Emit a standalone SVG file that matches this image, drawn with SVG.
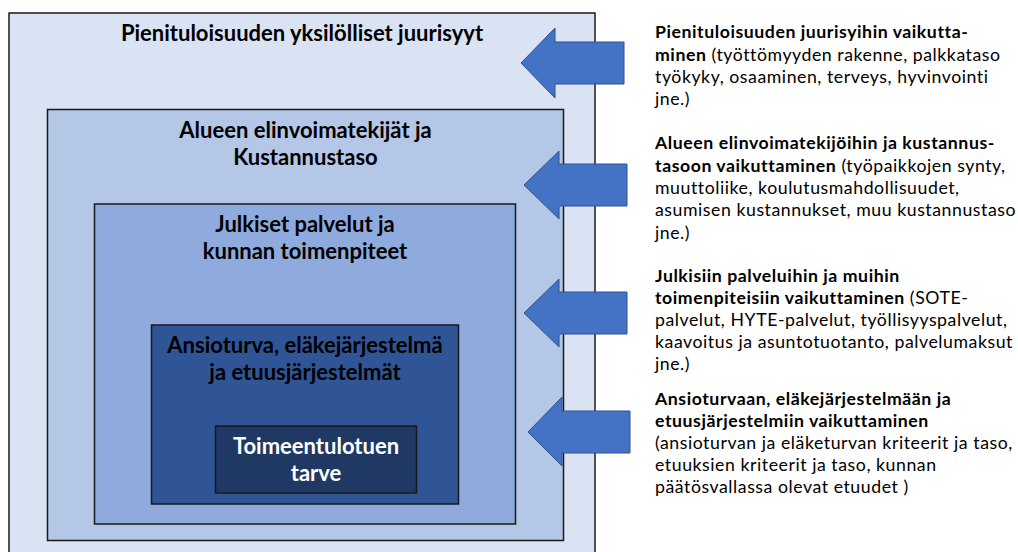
<svg xmlns="http://www.w3.org/2000/svg" width="1018" height="552" viewBox="0 0 1018 552">
<style>
.box{stroke:#1a1a1a;stroke-width:1.5}
.h{font-family:Lato,"Liberation Sans",sans-serif;font-weight:bold;font-size:22px;text-anchor:middle;fill:#000}
.w{fill:#fff}
.t{font-family:Lato,"Liberation Sans",sans-serif;font-size:17.7px;letter-spacing:0.55px;fill:#000}
.b{font-weight:bold}
.arrow{fill:#4472C4;stroke:#2F528F;stroke-width:1}
</style>
<rect width="1018" height="552" fill="#fff"/>
<g id="outer">
<rect class="box" x="9" y="13" width="586" height="560" fill="#DAE3F3" stroke="#404040"/>
<text class="h" x="302" y="41">Pienituloisuuden yksilölliset juurisyyt</text>
</g>
<g id="alue">
<rect class="box" x="47.5" y="109.5" width="516" height="431" fill="#B4C7E7"/>
<text class="h" x="305.5" y="138">Alueen elinvoimatekijät ja</text>
<text class="h" x="305.5" y="165">Kustannustaso</text>
</g>
<g id="julkiset">
<rect class="box" x="94.5" y="204" width="421" height="320" fill="#8FAADC"/>
<text class="h" x="305" y="232">Julkiset palvelut ja</text>
<text class="h" x="305" y="259">kunnan toimenpiteet</text>
</g>
<g id="ansioturva">
<rect class="box" x="151.5" y="325" width="307" height="179" fill="#2F5597"/>
<text class="h" x="305" y="353">Ansioturva, eläkejärjestelmä</text>
<text class="h" x="305" y="380">ja etuusjärjestelmät</text>
</g>
<g id="toimeentulo">
<rect class="box" x="215.5" y="426" width="201" height="67" fill="#203864"/>
<text class="h w" x="316" y="454">Toimeentulotuen</text>
<text class="h w" x="316" y="481">tarve</text>
</g>
<g id="connectors">
<polygon class="arrow" points="521,63 555,28 555,42 624,42 624,84 555,84 555,98"/>
<polygon class="arrow" points="524,185 559,151 559,164 627,164 627,206 559,206 559,219"/>
<polygon class="arrow" points="524,313 559,279 559,292 627,292 627,334 559,334 559,347"/>
<polygon class="arrow" points="528,432 562,397 562,411 630,411 630,453 562,453 562,466"/>
</g>
<g id="label1">
<text class="t" x="655" y="38"><tspan class="b">Pienituloisuuden juurisyihin vaikutta-</tspan></text>
<text class="t" x="655" y="61"><tspan class="b">minen</tspan> (työttömyyden rakenne, palkkataso</text>
<text class="t" x="655" y="83">työkyky, osaaminen, terveys, hyvinvointi</text>
<text class="t" x="655" y="105">jne.)</text>
</g>
<g id="label2">
<text class="t" x="655" y="149"><tspan class="b">Alueen elinvoimatekijöihin ja kustannus-</tspan></text>
<text class="t" x="655" y="172"><tspan class="b">tasoon vaikuttaminen</tspan> (työpaikkojen synty,</text>
<text class="t" x="655" y="194">muuttoliike, koulutusmahdollisuudet,</text>
<text class="t" x="655" y="216">asumisen kustannukset, muu kustannustaso</text>
<text class="t" x="655" y="239">jne.)</text>
</g>
<g id="label3">
<text class="t" x="655" y="282"><tspan class="b">Julkisiin palveluihin ja muihin</tspan></text>
<text class="t" x="655" y="304"><tspan class="b">toimenpiteisiin vaikuttaminen</tspan> (SOTE-</text>
<text class="t" x="655" y="326">palvelut, HYTE-palvelut, työllisyyspalvelut,</text>
<text class="t" x="655" y="348">kaavoitus ja asuntotuotanto, palvelumaksut</text>
<text class="t" x="655" y="370">jne.)</text>
</g>
<g id="label4">
<text class="t" x="655" y="405"><tspan class="b">Ansioturvaan, eläkejärjestelmään ja</tspan></text>
<text class="t" x="655" y="427"><tspan class="b">etuusjärjestelmiin vaikuttaminen</tspan></text>
<text class="t" x="655" y="449">(ansioturvan ja eläketurvan kriteerit ja taso,</text>
<text class="t" x="655" y="471">etuuksien kriteerit ja taso, kunnan</text>
<text class="t" x="655" y="493">päätösvallassa olevat etuudet )</text>
</g>
</svg>
